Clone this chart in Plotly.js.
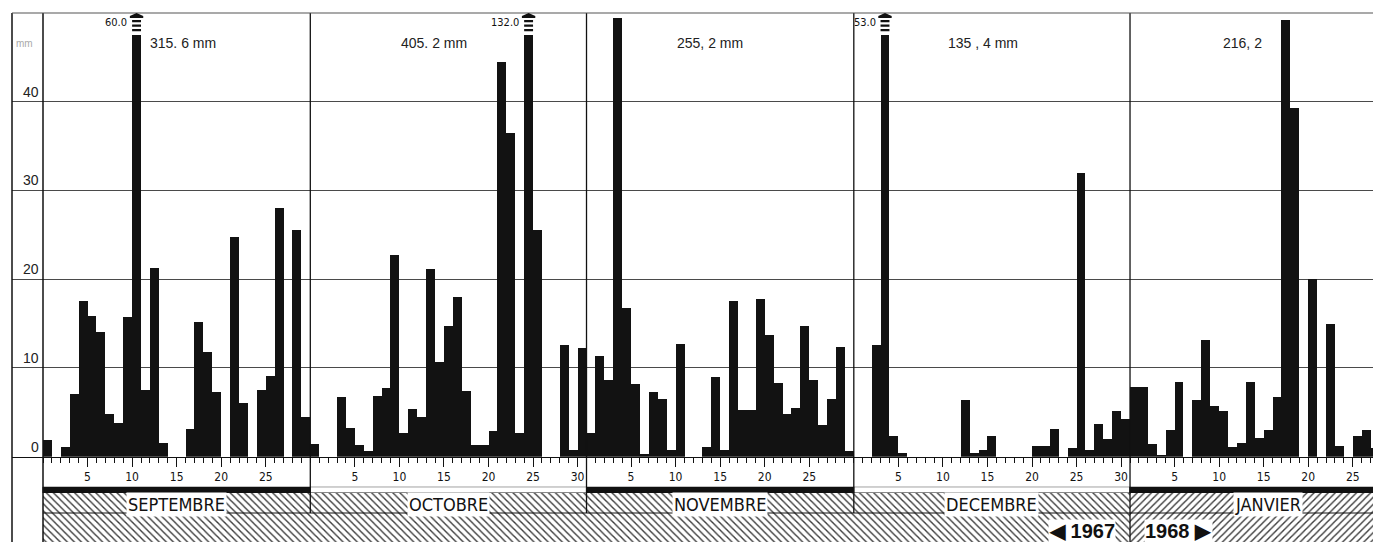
<!DOCTYPE html>
<html><head><meta charset="utf-8">
<script src="https://cdn.plot.ly/plotly-3.0.1.min.js"></script>
<style>html,body{margin:0;padding:0;background:#fff}#chart{width:1373px;height:542px}</style>
</head><body><div id="chart"></div>
<script>
// ---------------- DATA ----------------
const months = ["SEPTEMBRE", "OCTOBRE", "NOVEMBRE", "DECEMBRE", "JANVIER"];
const monthDays = [30, 31, 30, 31, 31];
const monthTotals = ["315. 6 mm", "405. 2 mm", "255, 2 mm", "135 , 4 mm", "216, 2"];
const yearLabels = ["\u25C0 1967", "1968 \u25B6"];
const yTickValues = [0, 10, 20, 30, 40];
const dayTickLabels = [5, 10, 15, 20, 25, 30];
// daily rainfall (mm), one value per day
const rainSep = [1.9, 0, 1.1, 7.1, 17.5, 15.8, 14.0, 4.8, 3.8, 15.7, 60.0, 7.5, 21.3, 1.6, 0, 0, 3.1, 15.2, 11.8, 7.3, 0, 24.8, 6.0, 0, 7.5, 9.1, 28.0, 0, 25.5, 4.5];
const rainOct = [1.4, 0, 0, 6.7, 3.2, 1.3, 0.6, 6.8, 7.7, 22.7, 2.7, 5.4, 4.5, 21.2, 10.7, 14.7, 18.0, 7.4, 1.3, 1.3, 2.9, 44.5, 36.5, 2.7, 132.0, 25.6, 0, 0, 12.6, 0.8, 12.2];
const rainNov = [2.7, 11.4, 8.7, 49.4, 16.8, 8.2, 0.3, 7.3, 6.5, 0.8, 12.7, 0, 0, 1.1, 9.0, 0.8, 17.5, 5.3, 5.3, 17.8, 13.7, 8.3, 4.8, 5.5, 14.7, 8.6, 3.6, 6.5, 12.4, 0.6];
const rainDec = [0, 0, 12.6, 53.0, 2.3, 0.4, 0, 0, 0, 0, 0, 0, 6.4, 0.45, 0.75, 2.3, 0, 0, 0, 0, 1.2, 1.2, 3.1, 0, 0.95, 32.0, 0.7, 3.7, 2.0, 5.1, 4.3];
const rainJan = [7.9, 7.9, 1.4, 0.2, 3.0, 8.4, 0, 6.4, 13.2, 5.7, 5.1, 1.1, 1.6, 8.4, 2.1, 3.0, 6.7, 49.2, 39.3, 0, 20.0, 0, 15.0, 1.2, 0, 2.3, 3.0, 1.0];

// ---------------- STYLE / LAYOUT CONSTANTS ----------------
const W = 1373, H = 542;
const PX_PER_DAY = 8.91;
const LEFT_FRAME_PX = 12, AXIS_PX = 43, TOP_PX = 13, ZERO_PX = 456.7;
const Y_MAX = 50, CAP = 47.5;
const totalLabelOffset = [11.8, 9.9, 9.9, 10.4, 10.2];
const COND = "'Liberation Sans Narrow','DejaVu Sans Condensed','Roboto Condensed','Arial Narrow',sans-serif";
const SANS = "'Liberation Sans',Arial,Helvetica,sans-serif";
const INK = '#111';
const HATCH = { fgcolor: '#3a3a3a', bgcolor: '#ffffff', size: 5, solidity: 0.28, fillmode: 'replace' };

const plotH = H - TOP_PX;
const bandPx = H - 486.7;                 // height of the lower band area
const monthRowBottom = H - 513;           // year row height
const monthRowTop = H - 493;
const xMin = -(AXIS_PX - LEFT_FRAME_PX) / PX_PER_DAY;
const xMax = xMin + (W - LEFT_FRAME_PX) / PX_PER_DAY;

// ---------------- BUILD ----------------
const series = [rainSep, rainOct, rainNov, rainDec, rainJan];
const starts = []; let acc = 0;
monthDays.forEach(d => { starts.push(acc); acc += d; });

const xs = [], shown = [], over = [];
series.forEach((arr, m) => arr.forEach((v, i) => {
  const x = starts[m] + i + 0.5;
  xs.push(x);
  shown.push(v > Y_MAX ? CAP : v);
  if (v > Y_MAX) over.push({ x, v });
}));

const majorVals = [], majorText = [], minorVals = [];
monthDays.forEach((d, m) => {
  dayTickLabels.forEach(t => { if (t < d) { majorVals.push(starts[m] + t); majorText.push(String(t)); } });
  for (let i = 0; i < d; i++) { const v = starts[m] + i; if (v <= xMax) minorVals.push(v); }
});

const mid = monthDays.map((d, m) => starts[m] + d / 2);

const traces = [
  { type: 'bar', x: xs, y: shown, width: 1, xaxis: 'x', yaxis: 'y',
    marker: { color: '#121212', line: { width: 0 } }, hoverinfo: 'skip' },
  // black / white strip
  { type: 'bar', x: mid, y: monthDays.map(() => (H - 486.7) - monthRowTop), base: monthDays.map(() => monthRowTop),
    width: monthDays, xaxis: 'x2', yaxis: 'y2',
    marker: { color: monthDays.map((d, m) => m % 2 === 0 ? INK : '#ffffff'), line: { color: INK, width: 1 } }, hoverinfo: 'skip' },
  // month name row (hatched)
  { type: 'bar', x: mid, y: monthDays.map(() => monthRowTop - monthRowBottom), base: monthDays.map(() => monthRowBottom),
    width: monthDays, xaxis: 'x2', yaxis: 'y2',
    marker: { color: '#ffffff', line: { width: 0 },
      pattern: Object.assign({ shape: monthDays.map((d, m) => m < 4 ? '\\' : '/') }, HATCH) },
    hoverinfo: 'skip' },
  // year row (hatched)
  { type: 'bar', x: [starts[4] / 2, starts[4] + monthDays[4] / 2], y: [monthRowBottom, monthRowBottom], base: [0, 0],
    width: [starts[4], monthDays[4]], xaxis: 'x2', yaxis: 'y2',
    marker: { color: '#ffffff', line: { width: 0 },
      pattern: Object.assign({ shape: ['\\', '/'] }, HATCH) },
    hoverinfo: 'skip' }
];

const annotations = [];
// monthly totals
monthTotals.forEach((t, m) => annotations.push({ xref: 'x', yref: 'y', x: starts[m] + totalLabelOffset[m], y: 46.6,
  xanchor: 'left', yanchor: 'middle', text: t, showarrow: false, font: { family: SANS, size: 14, color: '#222' } }));
// y tick labels
yTickValues.forEach(v => annotations.push({ xref: 'x', yref: 'y', x: 0, y: v, xanchor: 'right', yanchor: 'bottom',
  xshift: -2, yshift: 0, text: String(v), showarrow: false, font: { family: SANS, size: 14, color: '#222' } }));
annotations.push({ xref: 'paper', yref: 'y', x: 0, y: 46.6, xanchor: 'left', xshift: 2, text: 'mm', showarrow: false,
  font: { family: SANS, size: 10, color: '#aaa' } });
// month names
months.forEach((n, m) => annotations.push({ xref: 'x2', yref: 'y2', x: mid[m], y: (monthRowTop + monthRowBottom) / 2 - 1,
  text: n, showarrow: false, bgcolor: '#ffffff', borderpad: 1, font: { family: COND, size: 18, color: INK } }));
// year labels
annotations.push({ xref: 'x2', yref: 'y2', x: starts[4], y: 11.5, xanchor: 'right', xshift: -14, text: yearLabels[0],
  showarrow: false, bgcolor: '#ffffff', borderpad: 0, font: { family: SANS, size: 20, color: INK, weight: 700 } });
annotations.push({ xref: 'x2', yref: 'y2', x: starts[4], y: 11.5, xanchor: 'left', xshift: 14, text: yearLabels[1],
  showarrow: false, bgcolor: '#ffffff', borderpad: 0, font: { family: SANS, size: 20, color: INK, weight: 700 } });
// off-scale values
over.forEach(o => annotations.push({ xref: 'x', yref: 'y', x: o.x - 0.5, y: 48.9, xanchor: 'right', xshift: -3,
  text: o.v.toFixed(1), showarrow: false, font: { family: COND, size: 11, color: INK } }));

const shapes = [];
const vline = (xref, x, y0, y1, w) => shapes.push({ type: 'line', xref, yref: 'paper', x0: x, x1: x, y0, y1, line: { color: INK, width: w } });
vline('paper', 0, 0, 1, 1.5);
vline('x', 0, 0, 1, 1.5);
const monthRowBottomPaper = monthRowBottom / plotH;
starts.slice(1).forEach((s, k) => vline('x', s, k === 3 ? 0 : monthRowBottomPaper, 1, 1.3));
shapes.push({ type: 'line', xref: 'paper', yref: 'paper', x0: 0, x1: 1, y0: 1, y1: 1, line: { color: '#555', width: 1.2 } });
shapes.push({ type: 'line', xref: 'x', yref: 'paper', x0: 0, x1: xMax, y0: monthRowBottomPaper, y1: monthRowBottomPaper, line: { color: INK, width: 1 } });
// break marks on off-scale bars
over.forEach(o => {
  [[47.95, 48.2], [48.45, 48.7], [48.95, 49.2]].forEach(([a, b]) => shapes.push({ type: 'rect', xref: 'x', yref: 'y',
    x0: o.x - 0.5, x1: o.x + 0.5, y0: a, y1: b, fillcolor: INK, line: { width: 0 } }));
  shapes.push({ type: 'path', xref: 'x', yref: 'y', fillcolor: INK, line: { width: 0 },
    path: `M ${o.x - 0.75},49.45 L ${o.x + 0.75},49.45 L ${o.x + 0.75},49.65 L ${o.x},${Y_MAX} L ${o.x - 0.75},49.65 Z` });
});

const layout = {
  width: W, height: H, margin: { l: LEFT_FRAME_PX, r: 0, t: TOP_PX, b: 0, pad: 0 },
  paper_bgcolor: '#ffffff', plot_bgcolor: '#ffffff', showlegend: false, barmode: 'overlay', bargap: 0,
  xaxis: { range: [xMin, xMax], anchor: 'y', showgrid: false, zeroline: false, showline: true, linecolor: INK, linewidth: 1,
    tickmode: 'array', tickvals: majorVals, ticktext: majorText, ticks: 'outside', ticklen: 9, tickwidth: 1, tickcolor: INK,
    minor: { tickmode: 'array', tickvals: minorVals, ticks: 'outside', ticklen: 5, tickwidth: 1, tickcolor: INK, showgrid: false },
    tickfont: { family: COND, size: 12, color: INK }, fixedrange: true },
  yaxis: { domain: [(H - ZERO_PX) / plotH, 1], range: [0, Y_MAX], anchor: 'x', showgrid: true, gridcolor: '#4a4a4a', gridwidth: 1,
    tick0: 0, dtick: 10, showticklabels: false, ticks: '', zeroline: false, showline: false, fixedrange: true },
  xaxis2: { range: [xMin, xMax], anchor: 'y2', visible: false, fixedrange: true },
  yaxis2: { domain: [0, bandPx / plotH], range: [0, bandPx], anchor: 'x2', visible: false, fixedrange: true },
  annotations, shapes
};

Plotly.newPlot('chart', traces, layout, { staticPlot: true, displayModeBar: false });
</script>
</body></html>
